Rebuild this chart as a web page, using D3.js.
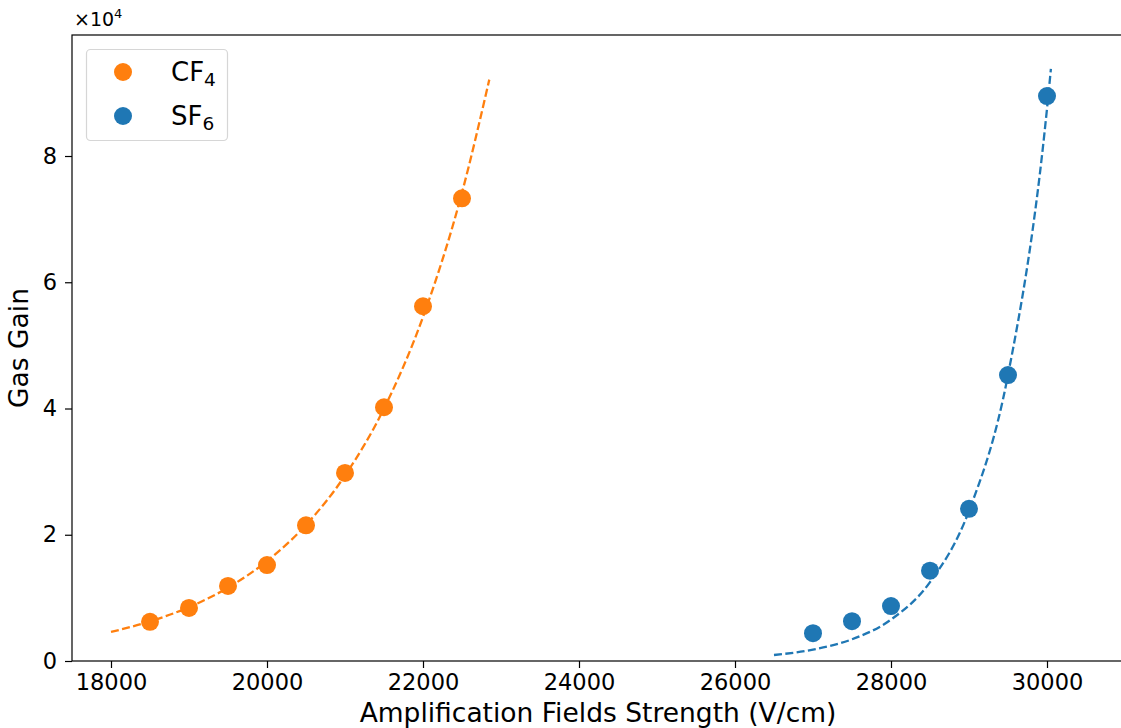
<!DOCTYPE html>
<html>
<head>
<meta charset="utf-8">
<script src="https://cdn.jsdelivr.net/npm/d3@7"></script>
<style>
  html, body { margin: 0; padding: 0; background: #fff; }
  svg { display: block; font-family: "DejaVu Sans", sans-serif; }
</style>
</head>
<body>
<svg id="chart" width="1121" height="728"></svg>
<script>
// measured points
const cf4Field = [18500, 19000, 19500, 20000, 20500, 21000, 21500, 22000, 22500];
const cf4Gain = [6200, 8400, 11900, 15200, 21500, 29800, 40200, 56200, 73300];
const sf6Field = [27000, 27500, 28000, 28500, 29000, 29500, 30000];
const sf6Gain = [4400, 6300, 8700, 14300, 24100, 45300, 89500];

// fitted curves
const cf4FitField = [18000, 18500, 19000, 19500, 20000, 20500, 21000, 21500, 22000, 22500, 22850];
const cf4FitGain = [4600, 6270, 8530, 11620, 15830, 21560, 29380, 40000, 54500, 74200, 92100];
const sf6FitField = [26500, 27000, 27500, 28000, 28500, 29000, 29500, 30000, 30050];
const sf6FitGain = [950, 1810, 3440, 6560, 12490, 23780, 45300, 87500, 93800];

const xTicks = [18000, 20000, 22000, 24000, 26000, 28000, 30000];
const yTicks = [0, 20000, 40000, 60000, 80000];

const orange = "#ff7f0e", blue = "#1f77b4";

const svg = d3.select("#chart");
const m = { left: 72, top: 35, bottom: 661, right: 1125 };

const x = d3.scaleLinear().domain([17500, 31000]).range([m.left, m.right]);
const y = d3.scaleLinear().domain([0, 99170]).range([m.bottom, m.top]);

// axes
const xAxis = svg.append("g")
    .attr("transform", `translate(0,${m.bottom})`)
    .call(d3.axisBottom(x).tickValues(xTicks).tickFormat(d3.format("d")).tickSize(7).tickPadding(6));
const yAxis = svg.append("g")
    .attr("transform", `translate(${m.left},0)`)
    .call(d3.axisLeft(y).tickValues(yTicks).tickFormat(d => d / 10000).tickSize(7).tickPadding(8));

[xAxis, yAxis].forEach(a => {
    a.select(".domain").remove();
    a.selectAll(".tick line").attr("stroke", "#000").attr("stroke-width", 1.2);
    a.selectAll(".tick text").attr("fill", "#000").style("font-size", "22.5px").style("font-family", "DejaVu Sans");
});

// spines
svg.append("rect")
    .attr("x", m.left).attr("y", m.top)
    .attr("width", m.right - m.left).attr("height", m.bottom - m.top)
    .attr("fill", "none").attr("stroke", "#000").attr("stroke-width", 1.2);

svg.append("text")
    .attr("x", m.left + 2).attr("y", m.top - 9)
    .style("font-size", "19px")
    .html('×10<tspan dy="-8" style="font-size:13px">4</tspan>');

// fit lines
const line = d3.line().x(d => x(d[0])).y(d => y(d[1])).curve(d3.curveMonotoneX);
const fits = [
    [d3.zip(cf4FitField, cf4FitGain), orange],
    [d3.zip(sf6FitField, sf6FitGain), blue]
];
fits.forEach(([pts, color]) => {
    svg.append("path")
        .attr("d", line(pts))
        .attr("fill", "none")
        .attr("stroke", color)
        .attr("stroke-width", 2.3)
        .attr("stroke-dasharray", "8,3.4");
});

// points
const series = [
    [d3.zip(cf4Field, cf4Gain), orange],
    [d3.zip(sf6Field, sf6Gain), blue]
];
series.forEach(([pts, color]) => {
    svg.append("g").selectAll("circle")
        .data(pts)
        .enter().append("circle")
        .attr("cx", d => x(d[0]))
        .attr("cy", d => y(d[1]))
        .attr("r", 9)
        .attr("fill", color);
});

// axis titles
svg.append("text")
    .attr("x", 598).attr("y", 722)
    .attr("text-anchor", "middle")
    .style("font-size", "26.5px")
    .text("Amplification Fields Strength (V/cm)");
svg.append("text")
    .attr("transform", `translate(28,${(m.top + m.bottom) / 2}) rotate(-90)`)
    .attr("text-anchor", "middle")
    .style("font-size", "26.5px")
    .text("Gas Gain");

// legend
const legend = svg.append("g");
legend.append("rect")
    .attr("x", 86.5).attr("y", 49.5).attr("width", 141).attr("height", 91)
    .attr("rx", 4)
    .attr("fill", "#fff").attr("fill-opacity", 0.8)
    .attr("stroke", "#d6d6d6").attr("stroke-width", 1.2);
const legendItems = [["CF", "4", orange], ["SF", "6", blue]];
legendItems.forEach(([base, sub, color], i) => {
    const cy = 72 + i * 44;
    legend.append("circle").attr("cx", 123).attr("cy", cy).attr("r", 9).attr("fill", color);
    legend.append("text")
        .attr("x", 171).attr("y", cy + 9)
        .style("font-size", "26px")
        .html(`${base}<tspan dy="5" style="font-size:18.5px">${sub}</tspan>`);
});
</script>
</body>
</html>
